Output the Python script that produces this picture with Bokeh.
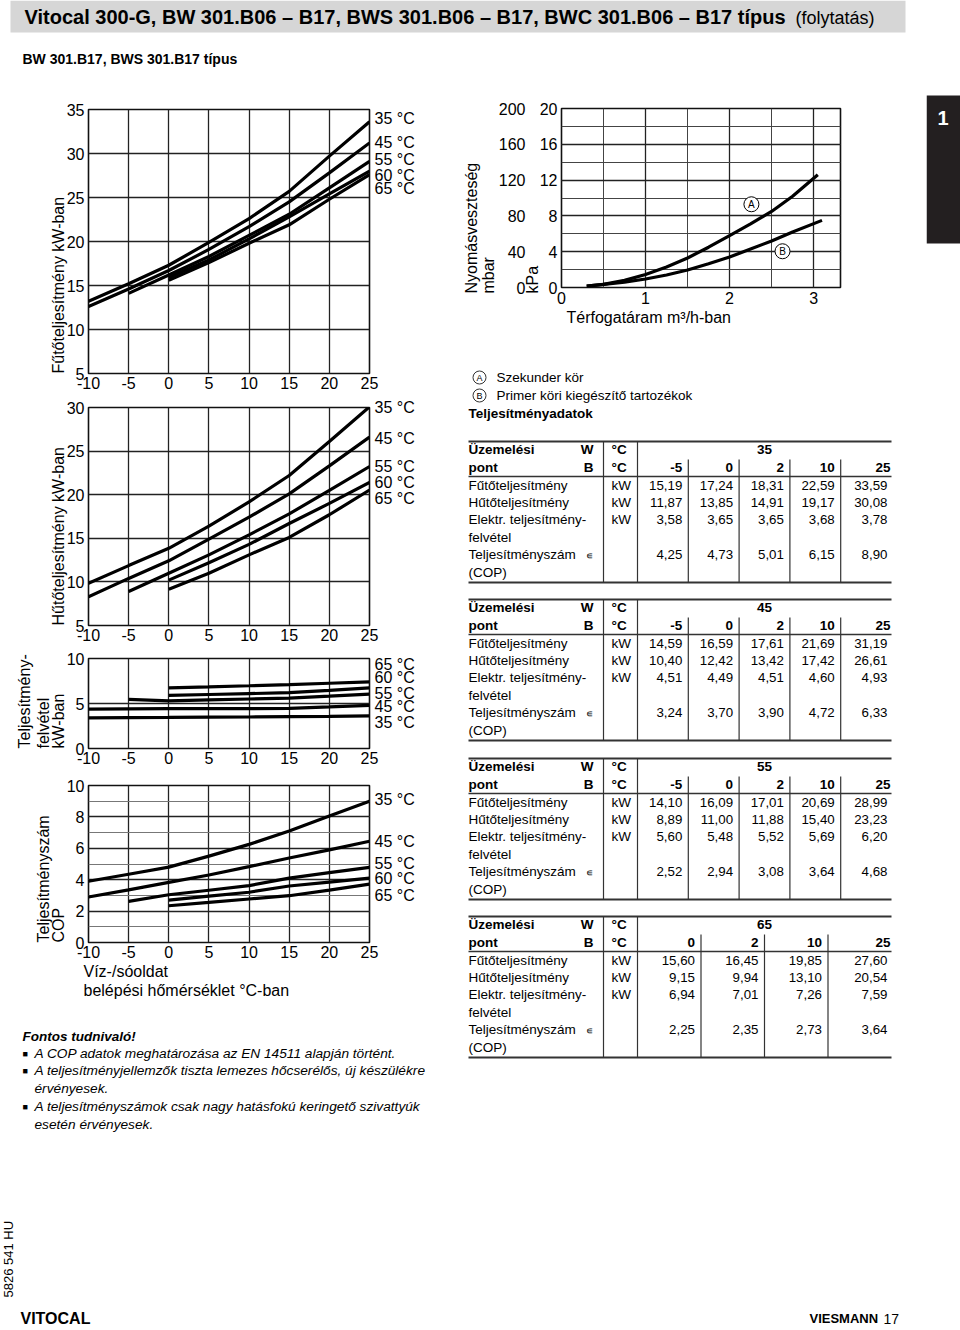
import json
import numpy as np
from bokeh.plotting import figure
from bokeh.layouts import column, row
from bokeh.models import (Range1d, FixedTicker, SingleIntervalTicker, LinearAxis, Title,
                          CustomJSTickFormatter)
from bokeh.embed import file_html
from bokeh.resources import INLINE
from bokeh.core.properties import value

nan = float("nan")
FONT = "Liberation Sans"

# ---------------- data ----------------
temps = [-10, -5, 0, 5, 10, 15, 20, 25]
flow_temps = [35, 45, 55, 60, 65]

heat_35 = [13.2, 15.2, 17.3, 19.9, 22.6, 25.7, 29.7, 33.6]
heat_45 = [12.6, 14.6, 16.7, 19.1, 21.7, 24.5, 27.8, 31.2]
heat_55 = [nan, 14.1, 16.2, 18.3, 20.7, 23.1, 26.1, 29.1]
heat_60 = [nan, nan, 15.9, 17.9, 20.3, 22.8, 25.4, 28.0]
heat_65 = [nan, nan, 15.6, 17.6, 19.8, 21.9, 24.8, 27.6]

cool_35 = [9.85, 11.87, 13.85, 16.4, 19.17, 22.2, 26.1, 30.08]
cool_45 = [8.3, 10.4, 12.42, 14.9, 17.42, 20.1, 23.3, 26.61]
cool_55 = [nan, 8.89, 11.0, 13.1, 15.4, 17.8, 20.5, 23.23]
cool_60 = [nan, nan, 10.2, 12.2, 14.3, 16.7, 19.0, 21.4]
cool_65 = [nan, nan, 9.15, 11.0, 13.1, 15.1, 17.7, 20.54]

elec_35 = [3.4, 3.43, 3.45, 3.48, 3.5, 3.54, 3.58, 3.63]
elec_45 = [4.37, 4.4, 4.42, 4.42, 4.43, 4.45, 4.62, 4.8]
elec_55 = [nan, 5.45, 5.3, 5.4, 5.5, 5.6, 5.82, 6.05]
elec_60 = [nan, nan, 5.9, 6.0, 6.1, 6.2, 6.45, 6.74]
elec_65 = [nan, nan, 6.74, 6.85, 6.97, 7.1, 7.25, 7.4]

cop_35 = [3.9, 4.35, 4.8, 5.5, 6.25, 7.1, 8.05, 9.0]
cop_45 = [2.9, 3.35, 3.83, 4.3, 4.83, 5.38, 5.9, 6.45]
cop_55 = [nan, 2.62, 3.04, 3.33, 3.62, 4.1, 4.45, 4.79]
cop_60 = [nan, nan, 2.7, 2.95, 3.2, 3.6, 3.85, 4.1]
cop_65 = [nan, nan, 2.34, 2.55, 2.77, 2.98, 3.34, 3.72]

flow_A = [0.3, 0.5, 0.75, 1.0, 1.25, 1.5, 1.75, 2.0, 2.25, 2.5, 2.75, 3.05]
dp_A = [0.15, 0.35, 0.8, 1.45, 2.3, 3.3, 4.5, 5.8, 7.1, 8.5, 10.2, 12.6]
flow_B = [0.3, 0.5, 0.75, 1.0, 1.25, 1.5, 1.75, 2.0, 2.25, 2.5, 2.75, 3.1]
dp_B = [0.15, 0.35, 0.6, 0.95, 1.4, 1.95, 2.65, 3.4, 4.3, 5.2, 6.2, 7.5]

tbl_W = [35, 45, 55, 65]
tbl_B = [[-5, 0, 2, 10, 25], [-5, 0, 2, 10, 25], [-5, 0, 2, 10, 25], [0, 2, 10, 25]]
tbl_heat = [[15.19, 17.24, 18.31, 22.59, 33.59], [14.59, 16.59, 17.61, 21.69, 31.19],
            [14.10, 16.09, 17.01, 20.69, 28.99], [15.60, 16.45, 19.85, 27.60]]
tbl_cool = [[11.87, 13.85, 14.91, 19.17, 30.08], [10.40, 12.42, 13.42, 17.42, 26.61],
            [8.89, 11.00, 11.88, 15.40, 23.23], [9.15, 9.94, 13.10, 20.54]]
tbl_elec = [[3.58, 3.65, 3.65, 3.68, 3.78], [4.51, 4.49, 4.51, 4.60, 4.93],
            [5.60, 5.48, 5.52, 5.69, 6.20], [6.94, 7.01, 7.26, 7.59]]
tbl_cop = [[4.25, 4.73, 5.01, 6.15, 8.90], [3.24, 3.70, 3.90, 4.72, 6.33],
           [2.52, 2.94, 3.08, 3.64, 4.68], [2.25, 2.35, 2.73, 3.64]]

x_ticks = [-10, -5, 0, 5, 10, 15, 20, 25]

LEFT_W = 440


# ---------------- helpers ----------------
def noalign(p):
    try:
        p.frame_align = False
    except Exception:
        pass
    return p


def pixfig(x0, x1, y0, y1):
    p = figure(width=x1 - x0, height=y1 - y0, x_range=Range1d(x0, x1), y_range=Range1d(y1, y0),
               x_axis_type=None, y_axis_type=None, toolbar_location=None, output_backend="svg",
               min_border=0, outline_line_color=None)
    p.background_fill_color = "white"
    p.border_fill_color = "white"
    return noalign(p)


def txt(p, xs, ys, texts, size="13px", align="left", style="normal", font=FONT, color="black", angle=0.0):
    p.text(x=list(xs), y=list(ys), text=list(texts), text_font=value(font), text_font_size=value(size),
           text_align=align, text_baseline="middle", text_font_style=style, text_color=color, angle=angle)


def side_title(p, text, side, offset=0, size="16px", standoff=0):
    t = Title(text=text, align="left", offset=offset, standoff=standoff, text_font=FONT,
              text_font_size=size, text_font_style="normal", text_color="black")
    p.add_layout(t, side)


def plain_axis(ax, standoff, hyphen=True):
    ax.axis_line_color = None
    ax.major_tick_line_color = None
    ax.minor_tick_line_color = None
    ax.major_tick_out = 0
    ax.major_tick_in = 0
    ax.minor_tick_out = 0
    ax.minor_tick_in = 0
    ax.major_label_text_font = FONT
    ax.major_label_text_font_size = "16px"
    ax.major_label_text_color = "black"
    ax.major_label_standoff = standoff
    if hyphen:
        ax.formatter = CustomJSTickFormatter(code="return String(Math.round(tick * 1000) / 1000);")


def style_axes(p):
    p.outline_line_color = "#111111"
    p.outline_line_width = 1.6
    p.grid.grid_line_color = "#222222"
    p.grid.grid_line_width = 1.3
    p.grid.grid_line_alpha = 1.0
    for ax in p.xaxis:
        plain_axis(ax, 3)
    for ax in p.yaxis:
        plain_axis(ax, 4)
    p.background_fill_color = "white"
    p.border_fill_color = "white"


def chart(h, top, bottom, yr, yticks, series, offsets, ylabels, minor=False):
    p = figure(width=LEFT_W, height=h, x_range=Range1d(-10, 25), y_range=Range1d(*yr),
               min_border_left=88, min_border_right=LEFT_W - 88 - 281, min_border_top=top,
               min_border_bottom=bottom, toolbar_location=None, output_backend="svg")
    noalign(p)
    style_axes(p)
    p.xaxis.ticker = FixedTicker(ticks=x_ticks)
    p.xgrid.ticker = FixedTicker(ticks=x_ticks)
    if minor:
        tk = SingleIntervalTicker(interval=2, num_minor_ticks=2)
        p.yaxis.ticker = tk
        p.ygrid.ticker = tk
        p.ygrid.minor_grid_line_color = "#777777"
        p.ygrid.minor_grid_line_width = 1.0
    else:
        p.yaxis.ticker = FixedTicker(ticks=yticks)
        p.ygrid.ticker = FixedTicker(ticks=yticks)
    frame_h = h - top - bottom
    px_per_unit = frame_h / (yr[1] - yr[0])
    label_pos, label_txt = [], []
    for t, vals, dy in zip(flow_temps, series, offsets):
        arr = np.array(vals, dtype=float)
        p.line(temps, arr, line_width=3.2, color="black")
        label_pos.append(round(float(arr[-1]) + dy / px_per_unit, 3))
        label_txt.append(f"{t} °C")
    mapping = {f"{v:.3f}": s for v, s in zip(label_pos, label_txt)}
    rax = LinearAxis(ticker=FixedTicker(ticks=sorted(label_pos)))
    p.add_layout(rax, "right")
    plain_axis(rax, 5, hyphen=False)
    rax.formatter = CustomJSTickFormatter(
        code="const m = %s; const k = tick.toFixed(3); return (k in m) ? m[k] : '';" % json.dumps(mapping))
    for k, text in enumerate(ylabels):
        side_title(p, text, "left", standoff=(-7 if k == 0 else 0))
    return p


# ---------------- header ----------------
header = pixfig(0, 960, 0, 85)
header.quad(left=[10], right=[905], top=[0], bottom=[32], fill_color="#d6d6d6", line_color=None)
txt(header, [24], [16], ["Vitocal 300-G, BW 301.B06 – B17, BWS 301.B06 – B17, BWC 301.B06 – B17 típus"],
    size="20px", style="bold")
txt(header, [795], [17], ["(folytatás)"], size="18px", align="left")
txt(header, [22], [58], ["BW 301.B17, BWS 301.B17 típus"], size="14px", style="bold")

# ---------------- left charts ----------------
fig1 = chart(313, 24, 25, (5, 35), [5, 10, 15, 20, 25, 30, 35],
             [heat_35, heat_45, heat_55, heat_60, heat_65], [3, 0, 2, -4, -14],
             ["Fűtőteljesítmény kW-ban"])
fig2 = chart(252, 9, 25, (5, 30), [5, 10, 15, 20, 25, 30],
             [cool_35, cool_45, cool_55, cool_60, cool_65], [-1, -1, 0, 0, -9],
             ["Hűtőteljesítmény kW-ban"])
fig3 = chart(123, 8, 25, (0, 10), [0, 5, 10],
             [elec_35, elec_45, elec_55, elec_60, elec_65], [-7, -1, 1, 10, 17],
             ["kW-ban", "felvétel", "Teljesítmény-"])
fig4 = chart(237, 12, 68, (0, 10), [0, 2, 4, 6, 8, 10],
             [cop_35, cop_45, cop_55, cop_60, cop_65], [2, 0, 4, 0, -11],
             ["COP", "Teljesítményszám"], minor=True)
side_title(fig4, "Víz-/sóoldat", "below", offset=-5)
side_title(fig4, "belépési hőmérséklet °C-ban", "below", offset=-5)

# ---------------- notes ----------------
notes = pixfig(0, LEFT_W, 1010, 1200)
txt(notes, [22], [1036], ["Fontos tudnivaló!"], size="13.5px", style="bold italic")
txt(notes, [22, 22, 22], [1053, 1070, 1106], ["■", "■", "■"], size="9px")
txt(notes, [34] * 5, [1053, 1070, 1088, 1106, 1124],
    ["A COP adatok meghatározása az EN 14511 alapján történt.",
     "A teljesítményjellemzők tiszta lemezes hőcserélős, új készülékre",
     "érvényesek.",
     "A teljesítményszámok csak nagy hatásfokú keringető szivattyúk",
     "esetén érvényesek."], size="13.7px", style="italic")

left = column(fig1, fig2, fig3, fig4, notes, spacing=0)

# ---------------- pressure chart ----------------
PW = 926 - LEFT_W
pf = figure(width=PW, height=260, x_range=Range1d(0, 3.32), y_range=Range1d(0, 20),
            min_border_left=561 - LEFT_W, min_border_right=86, min_border_top=23, min_border_bottom=58,
            toolbar_location=None, output_backend="svg")
noalign(pf)
style_axes(pf)
xtk = SingleIntervalTicker(interval=1, num_minor_ticks=2)
ytk = SingleIntervalTicker(interval=4, num_minor_ticks=2)
pf.xaxis.ticker = xtk
pf.xgrid.ticker = xtk
pf.yaxis.ticker = ytk
pf.ygrid.ticker = ytk
pf.grid.minor_grid_line_color = "#444444"
pf.grid.minor_grid_line_width = 1.0
plain_axis(pf.xaxis[0], 4)
plain_axis(pf.yaxis[0], 4)
side_title(pf, "kPa", "left", offset=-6, standoff=-8)
pf.extra_y_ranges = {"mbar": Range1d(0, 200)}
mbar_axis = LinearAxis(y_range_name="mbar", ticker=FixedTicker(ticks=[0, 40, 80, 120, 160, 200]))
pf.add_layout(mbar_axis, "left")
plain_axis(mbar_axis, 0)
side_title(pf, "mbar", "left", offset=-6, standoff=-3)
side_title(pf, "Nyomásveszteség", "left", offset=-6)
side_title(pf, "Térfogatáram m³/h-ban", "below", offset=5)
pf.line(flow_A, dp_A, line_width=3.2, color="black")
pf.line(flow_B, dp_B, line_width=3.2, color="black")
pf.scatter([2.26, 2.63], [9.3, 4.05], size=15, marker="circle", fill_color="white",
           line_color="black", line_width=1.0)
pf.text(x=[2.26, 2.63], y=[9.3, 4.05], text=["A", "B"], text_font=value(FONT), text_font_size=value("10px"),
        text_align="center", text_baseline="middle")

tab = pixfig(926, 960, 85, 345)
tab.quad(left=[926], right=[960], top=[95], bottom=[243], fill_color="#231f20", line_color=None)
txt(tab, [937], [117], ["1"], size="20px", style="bold", color="white")

# ---------------- tables ----------------
tf = pixfig(LEFT_W, 960, 345, 1200)
tf.scatter([479, 479], [377, 395], size=13, marker="circle", fill_color="white", line_color="#333333",
           line_width=1.0)
txt(tf, [479, 479], [377, 395], ["A", "B"], size="9px", align="center")
txt(tf, [496, 496], [377, 395], ["Szekunder kör", "Primer köri kiegészítő tartozékok"], size="13.5px")
txt(tf, [468], [413], ["Teljesítményadatok"], size="13.5px", style="bold")


def fmt(v):
    return f"{v:.2f}".replace(".", ",")


row_labels = ["Fűtőteljesítmény", "Hűtőteljesítmény", "Elektr. teljesítmény-", "felvétel",
              "Teljesítményszám", "(COP)"]
for i in range(4):
    T = round(441 + i * 158.3)
    n = len(tbl_B[i])
    w = 254 / n
    edges = [637 + k * w for k in range(n + 1)]
    x0s = [468, 468, 468, 603, 637] + edges[1:-1]
    x1s = [891, 891, 891, 603, 637] + edges[1:-1]
    y0s = [T, T + 35, T + 141, T, T] + [T + 18] * (n - 1)
    y1s = [T, T + 35, T + 141, T + 141, T + 141] + [T + 141] * (n - 1)
    lw = [2.0, 1.5, 2.0, 1.2, 1.2] + [1.2] * (n - 1)
    tf.segment(x0=x0s, y0=y0s, x1=x1s, y1=y1s, line_color="#333333", line_width=lw)
    txt(tf, [468, 468], [T + 8, T + 26], ["Üzemelési", "pont"], size="13.5px", style="bold")
    txt(tf, [593, 593], [T + 8, T + 26], ["W", "B"], size="13.5px", style="bold", align="right")
    txt(tf, [611, 611], [T + 8, T + 26], ["°C", "°C"], size="13.5px", style="bold")
    txt(tf, [764], [T + 8], [str(tbl_W[i])], size="13.5px", style="bold", align="center")
    rx = [e - 6 for e in edges[1:-1]] + [890]
    txt(tf, rx, [T + 26] * n, [str(b) for b in tbl_B[i]], size="13.5px", style="bold", align="right")
    txt(tf, [468] * 6, [T + 44, T + 61, T + 78, T + 96, T + 113, T + 131], row_labels, size="13.5px")
    txt(tf, [585], [T + 114], ["∊"], size="10px")
    txt(tf, [611] * 3, [T + 44, T + 61, T + 78], ["kW"] * 3, size="13.5px")
    vx = [e - 6 for e in edges[1:-1]] + [887]
    for rows_vals, yy in ((tbl_heat[i], T + 44), (tbl_cool[i], T + 61), (tbl_elec[i], T + 78),
                          (tbl_cop[i], T + 113)):
        txt(tf, vx, [yy] * n, [fmt(v) for v in rows_vals], size="13.3px", align="right")

right = column(row(pf, tab, spacing=0), tf, spacing=0)
mid = row(left, right, spacing=0)

# ---------------- footer ----------------
footer = pixfig(0, 960, 1200, 1330)
txt(footer, [8], [1297], ["5826 541 HU"], size="13px", angle=np.pi / 2)
txt(footer, [20], [1318], ["VITOCAL"], size="16px", style="bold")
txt(footer, [809], [1318], ["VIESMANN"], size="13px", style="bold")
txt(footer, [883], [1318], ["17"], size="14px")

page = column(header, mid, footer, spacing=0)
open("out.html", "w").write(file_html(page, INLINE))
